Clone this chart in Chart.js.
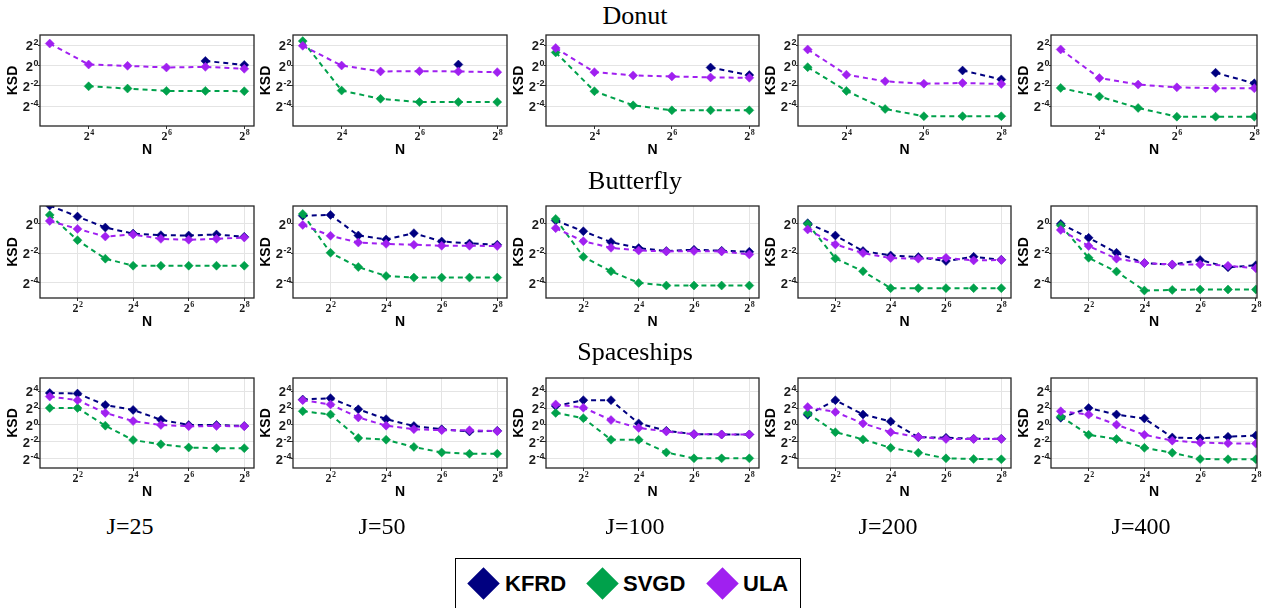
<!DOCTYPE html>
<html>
<head>
<meta charset="utf-8">
<script src="https://cdn.jsdelivr.net/npm/chart.js@4/dist/chart.umd.min.js"></script>
<style>
	body {
		margin: 0;
		background: #fff;
		width: 1269px;
		height: 608px;
		position: relative;
		overflow: hidden;
	}
	canvas {
		position: absolute;
	}
	.title {
		position: absolute;
		font-family: "Liberation Serif", "Times New Roman", serif;
		white-space: nowrap;
		transform: translateX(-50%);
		color: #000;
	}
	.row-title {
		font-size: 26px;
		line-height: 26px;
	}
	.j-title {
		font-size: 24px;
		line-height: 24px;
	}
	#legend {
		position: absolute;
		left: 455px;
		top: 558px;
		width: 346px;
		height: 60px;
		border: 1.5px solid #000;
		box-sizing: border-box;
	}
	.key {
		position: absolute;
		width: 23px;
		height: 23px;
		transform: rotate(45deg);
	}
	.key-label {
		position: absolute;
		font-family: "Liberation Sans", Arial, sans-serif;
		font-weight: bold;
		font-size: 22px;
		line-height: 22px;
		color: #000;
	}
</style>
</head>
<body>
<div id="legend"></div>

<script>
// methods and their colours
const methods = ["KFRD", "SVGD", "ULA"];
const methodColors = ["#000080", "#00A14B", "#A020F0"];
const jLabels = ["J=25", "J=50", "J=100", "J=200", "J=400"];

// sample sizes on the x axis
const nDonut = [8, 16, 32, 64, 128, 256];
const nOther = [2, 4, 8, 16, 32, 64, 128, 256];

// log2(KSD), one row per J (25, 50, 100, 200, 400)
const donutKFRD = [
	[null, null, null, null, 0.45, 0.06],
	[null, null, null, null, 0.1, null],
	[null, null, null, null, -0.19, -0.94],
	[null, null, null, null, -0.49, -1.36],
	[null, null, null, null, -0.71, -1.75],
];
const donutSVGD = [
	[null, -2.04, -2.26, -2.49, -2.49, -2.52],
	[2.4, -2.46, -3.27, -3.59, -3.59, -3.59],
	[1.29, -2.52, -3.91, -4.4, -4.4, -4.4],
	[-0.16, -2.49, -4.27, -4.98, -4.98, -4.98],
	[-2.2, -3.04, -4.17, -5.02, -5.02, -5.02],
];
const donutULA = [
	[2.16, 0.1, -0.03, -0.19, -0.13, -0.32],
	[1.94, 0, -0.58, -0.55, -0.58, -0.65],
	[1.72, -0.65, -0.97, -1.07, -1.17, -1.2],
	[1.58, -0.9, -1.55, -1.78, -1.72, -1.81],
	[1.58, -1.23, -1.87, -2.14, -2.23, -2.23],
];

const butterflyKFRD = [
	[1.25, 0.5, -0.25, -0.66, -0.77, -0.79, -0.72, -0.88],
	[0.56, 0.61, -0.79, -1.06, -0.63, -1.2, -1.33, -1.42],
	[0.23, -0.5, -1.24, -1.65, -1.85, -1.76, -1.83, -1.9],
	[0.05, -0.79, -1.85, -2.15, -2.26, -2.53, -2.24, -2.44],
	[0, -0.95, -1.97, -2.67, -2.78, -2.46, -2.96, -2.82],
];
const butterflySVGD = [
	[0.61, -1.11, -2.37, -2.85, -2.85, -2.85, -2.85, -2.85],
	[0.68, -1.97, -2.94, -3.55, -3.66, -3.66, -3.66, -3.66],
	[0.34, -2.24, -3.23, -4.02, -4.2, -4.2, -4.2, -4.2],
	[0, -2.35, -3.23, -4.38, -4.38, -4.38, -4.38, -4.38],
	[-0.11, -2.31, -3.25, -4.54, -4.5, -4.47, -4.47, -4.47],
];
const butterflyULA = [
	[0.2, -0.34, -0.86, -0.72, -1.02, -1.08, -1.02, -0.93],
	[-0.07, -0.81, -1.27, -1.36, -1.42, -1.49, -1.49, -1.51],
	[-0.29, -1.18, -1.63, -1.81, -1.88, -1.85, -1.88, -2.08],
	[-0.38, -1.4, -1.99, -2.33, -2.37, -2.31, -2.49, -2.46],
	[-0.41, -1.51, -2.37, -2.67, -2.76, -2.76, -2.85, -3.03],
];

const spaceshipsKFRD = [
	[3.78, 3.71, 2.36, 1.78, 0.62, 0, 0, -0.12],
	[3.01, 3.17, 1.85, 0.69, -0.12, -0.5, -0.77, -0.69],
	[2.24, 2.93, 2.93, 0.19, -0.69, -1.08, -1.12, -1.12],
	[1.2, 2.93, 1.24, 0.42, -1.43, -1.51, -1.62, -1.62],
	[0.85, 2.0, 1.24, 0.77, -1.47, -1.58, -1.39, -1.24],
];
const spaceshipsSVGD = [
	[2.0, 2.0, -0.08, -1.78, -2.28, -2.66, -2.74, -2.74],
	[1.62, 1.24, -1.54, -1.74, -2.59, -3.24, -3.4, -3.4],
	[1.43, 0.81, -1.74, -1.74, -3.24, -3.94, -3.94, -3.94],
	[1.39, -0.85, -1.7, -2.7, -3.28, -3.94, -4.02, -4.05],
	[1.0, -1.16, -1.66, -2.7, -3.28, -4.02, -4.05, -4.05],
];
const spaceshipsULA = [
	[3.36, 2.93, 1.43, 0.46, 0, -0.15, -0.12, -0.15],
	[2.93, 2.43, 0.89, -0.08, -0.5, -0.62, -0.62, -0.73],
	[2.43, 2.05, 0.58, -0.35, -0.77, -1.08, -1.12, -1.12],
	[2.12, 1.54, 0.19, -0.85, -1.43, -1.66, -1.66, -1.66],
	[1.62, 1.24, 0.04, -1.16, -1.85, -2.08, -2.16, -2.2],
];

// tick exponents
const donutYTicks = [2, 0, -2, -4];
const butterflyYTicks = [0, -2, -4];
const spaceshipsYTicks = [4, 2, 0, -2, -4];
const donutXTicks = [16, 64, 256];
const otherXTicks = [4, 16, 64, 256];

// panel layout (pixels)
const colLeft = [40, 293, 546, 798, 1051];
const colRight = [254, 507, 759, 1011, 1257];
const rowTop = [34, 205, 377];
const rowBottom = [126, 298, 468];

const rows = [
	{
		name: "Donut", titleTop: 3, n: nDonut,
		values: [donutKFRD, donutSVGD, donutULA],
		yMin: -5.94, yMax: 3.0, yTicks: donutYTicks, xTicks: donutXTicks,
		xMin: 2.75, xMax: 8.25, xMaxLast: 8.07, vGrid: false,
	},
	{
		name: "Butterfly", titleTop: 168, n: nOther,
		values: [butterflyKFRD, butterflySVGD, butterflyULA],
		yMin: -5.05, yMax: 1.22, yTicks: butterflyYTicks, xTicks: otherXTicks,
		xMin: 0.65, xMax: 8.35, xMaxLast: 8.04, vGrid: true,
	},
	{
		name: "Spaceships", titleTop: 339, n: nOther,
		values: [spaceshipsKFRD, spaceshipsSVGD, spaceshipsULA],
		yMin: -5.08, yMax: 5.55, yTicks: spaceshipsYTicks, xTicks: otherXTicks,
		xMin: 0.65, xMax: 8.35, xMaxLast: 8.04, vGrid: true,
	},
];

// draw the dark frame round each panel
const panelBox = {
	id: "panelBox",
	afterDraw(chart) {
		const a = chart.chartArea;
		const ctx = chart.ctx;
		ctx.save();
		ctx.strokeStyle = "#262626";
		ctx.lineWidth = 1.3;
		ctx.strokeRect(a.left, a.top, a.right - a.left, a.bottom - a.top);
		ctx.restore();
	},
};

// tick labels as 2 with a raised exponent, like the plotmath labels
function drawPower(ctx, exp, xRef, baseline, baseFont, expFont, raise, align) {
	ctx.font = baseFont;
	const bw = ctx.measureText("2").width;
	ctx.font = expFont;
	const ew = ctx.measureText(exp).width;
	let x0 = xRef - bw - ew;
	if (align === "center") x0 = xRef - (bw + ew) / 2;
	ctx.font = baseFont;
	ctx.fillText("2", x0, baseline);
	ctx.font = expFont;
	ctx.fillText(exp, x0 + bw + 0.5, baseline - raise);
}

const powerTicks = {
	id: "powerTicks",
	afterDraw(chart) {
		const ctx = chart.ctx;
		const a = chart.chartArea;
		const xs = chart.scales.x;
		const ys = chart.scales.y;
		ctx.save();
		ctx.fillStyle = "#1a1a1a";
		ctx.textAlign = "left";
		ctx.textBaseline = "alphabetic";
		xs.ticks.forEach((t) => {
			const e = String(Math.round(Math.log2(t.value)));
			drawPower(ctx, e, xs.getPixelForValue(t.value), a.bottom + 14,
				"bold 12px 'Liberation Serif', serif", "bold 8px 'Liberation Serif', serif", 5, "center");
		});
		ys.ticks.forEach((t) => {
			drawPower(ctx, String(t.value), a.left - 2, ys.getPixelForValue(t.value) + 5,
				"bold 13px 'Liberation Sans', Arial, sans-serif", "bold 9px 'Liberation Sans', Arial, sans-serif", 5, "right");
		});
		ctx.restore();
	},
};

function addText(cls, text, x, top) {
	const d = document.createElement("div");
	d.className = "title " + cls;
	d.textContent = text;
	d.style.left = x + "px";
	d.style.top = top + "px";
	document.body.appendChild(d);
}

const gridColor = "#e4e4e4";
const tickColor = "#333333";

rows.forEach((row, r) => {
	addText("row-title", row.name, 635, row.titleTop);

	for (let c = 0; c < 5; c++) {
		const boxW = colRight[c] - colLeft[c];
		const boxH = rowBottom[r] - rowTop[r];
		const canvas = document.createElement("canvas");
		canvas.width = boxW + 50;
		canvas.height = boxH + 40;
		canvas.style.left = colLeft[c] - 40 + "px";
		canvas.style.top = rowTop[r] - 4 + "px";
		canvas.style.width = canvas.width + "px";
		canvas.style.height = canvas.height + "px";
		document.body.appendChild(canvas);

		const datasets = methods.map((m, k) => ({
			label: m,
			data: row.n.map((n, i) => ({ x: n, y: row.values[k][c][i] })),
			borderColor: methodColors[k],
			backgroundColor: methodColors[k],
			borderWidth: 2,
			borderDash: [5, 4],
			pointStyle: "rectRot",
			pointRadius: 4.5,
			pointBorderWidth: 0.5,
			pointBackgroundColor: methodColors[k],
			pointBorderColor: methodColors[k],
			spanGaps: false,
			order: 2 - k,
		}));

		new Chart(canvas.getContext("2d"), {
			type: "line",
			data: { datasets: datasets },
			options: {
				responsive: false,
				animation: false,
				layout: { padding: { top: 4, right: 10, left: 0, bottom: 0 } },
				plugins: { legend: { display: false }, tooltip: { enabled: false } },
				scales: {
					x: {
						type: "logarithmic",
						min: Math.pow(2, row.xMin),
						max: Math.pow(2, c === 4 ? row.xMaxLast : row.xMax),
						afterBuildTicks: (s) => {
							s.ticks = row.xTicks.map((v) => ({ value: v }));
						},
						afterFit: (s) => {
							s.height = 36;
						},
						border: { display: false },
						grid: {
							color: row.vGrid ? gridColor : "rgba(0,0,0,0)",
							lineWidth: 1,
							tickLength: 3,
							tickColor: tickColor,
						},
						ticks: { display: false },
						title: {
							display: true,
							text: "N",
							color: "#000",
							padding: { top: 0, bottom: 3 },
							font: { family: "'Liberation Sans', Arial, sans-serif", size: 14, weight: "bold" },
						},
					},
					y: {
						type: "linear",
						min: row.yMin,
						max: row.yMax,
						afterBuildTicks: (s) => {
							s.ticks = row.yTicks.map((v) => ({ value: v }));
						},
						afterFit: (s) => {
							s.width = 40;
						},
						border: { display: false },
						grid: {
							color: gridColor,
							lineWidth: 1,
							tickLength: 2,
							tickColor: tickColor,
						},
						ticks: { display: false },
						title: {
							display: true,
							text: "KSD",
							color: "#000",
							padding: { top: 5, bottom: 0 },
							font: { family: "'Liberation Sans', Arial, sans-serif", size: 14, weight: "bold" },
						},
					},
				},
			},
			plugins: [panelBox, powerTicks],
		});
	}
});

// J labels under the columns
const jCenters = [130, 382, 635, 888, 1141];
jLabels.forEach((t, c) => addText("j-title", t, jCenters[c], 514));

// legend
const keyCenters = [483, 602, 722];
const labelLefts = [505, 623, 743];
methods.forEach((m, k) => {
	const key = document.createElement("div");
	key.className = "key";
	key.style.background = methodColors[k];
	key.style.left = keyCenters[k] - 11.5 + "px";
	key.style.top = 583 - 11.5 + "px";
	document.body.appendChild(key);

	const lab = document.createElement("div");
	lab.className = "key-label";
	lab.textContent = m;
	lab.style.left = labelLefts[k] + "px";
	lab.style.top = "573px";
	document.body.appendChild(lab);
});
</script>
</body>
</html>
